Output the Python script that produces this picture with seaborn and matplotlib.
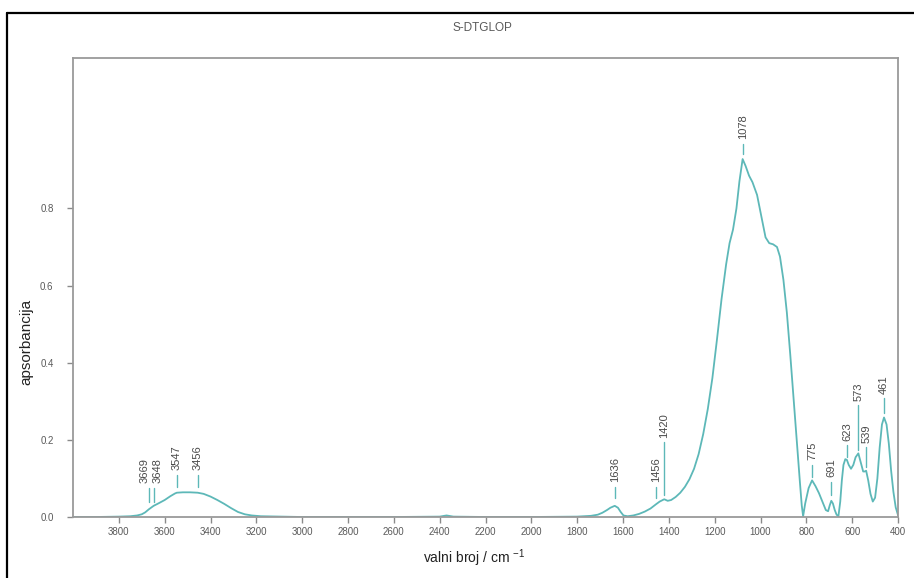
import numpy as np
import pandas as pd
import matplotlib
matplotlib.use("Agg")
import matplotlib.pyplot as plt
import seaborn as sns
from matplotlib.lines import Line2D
from matplotlib.transforms import offset_copy

# ---------------- data ----------------
wavenumber = [4000, 3900, 3800, 3750, 3720, 3700, 3685, 3669, 3648, 3625, 3600, 3575, 3555, 3547,
              3520, 3490, 3456, 3430, 3400, 3370, 3340, 3310, 3280, 3250, 3220, 3180, 3100, 3000,
              2800, 2600, 2400, 2370, 2340, 2200, 2000, 1800, 1740, 1710, 1690, 1670, 1655, 1636,
              1622, 1610, 1598, 1580, 1555, 1530, 1505, 1480, 1456, 1440, 1420, 1405, 1390, 1370,
              1350, 1330, 1310, 1290, 1270, 1250, 1230, 1210, 1190, 1170, 1150, 1135, 1120, 1105,
              1092, 1078, 1065, 1050, 1035, 1015, 995, 978, 962, 945, 928, 915, 900, 885, 870, 855,
              840, 828, 820, 814, 805, 790, 775, 760, 745, 730, 715, 705, 698, 691, 684, 676, 668,
              660, 652, 645, 638, 630, 623, 615, 605, 595, 585, 573, 562, 552, 545, 539, 530, 520,
              510, 500, 490, 480, 470, 461, 450, 440, 430, 420, 410, 400]
absorbance = [0.0, 0.0, 0.001, 0.002, 0.004, 0.007, 0.012, 0.020, 0.029, 0.036, 0.044, 0.054, 0.061, 0.063,
              0.064, 0.064, 0.063, 0.060, 0.053, 0.044, 0.034, 0.023, 0.013, 0.007, 0.004, 0.002, 0.001, 0.0,
              0.0, 0.0, 0.001, 0.004, 0.001, 0.0, 0.0, 0.001, 0.003, 0.006, 0.011, 0.018, 0.024, 0.029,
              0.024, 0.013, 0.004, 0.002, 0.004, 0.008, 0.014, 0.022, 0.033, 0.040, 0.046, 0.042, 0.044, 0.052,
              0.063, 0.078, 0.098, 0.125, 0.163, 0.215, 0.28, 0.36, 0.46, 0.565, 0.655, 0.71, 0.745, 0.80,
              0.87, 0.928, 0.91, 0.885, 0.868, 0.835, 0.775, 0.725, 0.71, 0.707, 0.70, 0.675, 0.615, 0.53, 0.42, 0.305,
              0.185, 0.09, 0.03, 0.002, 0.035, 0.075, 0.095, 0.08, 0.062, 0.04, 0.018, 0.015, 0.03, 0.042, 0.035, 0.018, 0.006,
              0.002, 0.04, 0.095, 0.135, 0.15, 0.148, 0.135, 0.125, 0.135, 0.155, 0.165, 0.14, 0.118, 0.118, 0.12, 0.095, 0.06,
              0.04, 0.05, 0.10, 0.18, 0.24, 0.258, 0.24, 0.19, 0.12, 0.065, 0.025, 0.005]

peak_wavenumbers = [3669, 3648, 3547, 3456, 1636, 1456, 1420, 1078, 775, 691, 623, 573, 539, 461]
peak_labels = [str(p) for p in peak_wavenumbers]

x_ticks = [3800, 3600, 3400, 3200, 3000, 2800, 2600, 2400, 2200, 2000, 1800, 1600, 1400, 1200, 1000, 800, 600, 400]
y_ticks = [0.0, 0.2, 0.4, 0.6, 0.8]
y_tick_labels = ["0.0", "0.2", "0.4", "0.6", "0.8"]

title = "S-DTGLOP"
x_label = "valni broj / cm $^{-1}$"
y_label = "apsorbancija"

# ---------------- layout of peak markers (data y) ----------------
marker_bottoms = [0.039, 0.039, 0.078, 0.078, 0.049, 0.049, 0.057, 0.942, 0.103, 0.057, 0.155, 0.173, 0.129, 0.269]
marker_tops = [0.075, 0.075, 0.109, 0.109, 0.078, 0.078, 0.194, 0.968, 0.135, 0.091, 0.186, 0.290, 0.181, 0.308]
label_dx_px = [-4, 4, 0, 0, 0, 0, 0, 0, 0, 0, 0, 0, 0, 0]

W, H = 914, 578
teal = "#5db8b8"
grey_txt = "#5a5a5a"

sns.set_style("white")
plt.rcParams["font.family"] = ["Liberation Sans", "DejaVu Sans"]
plt.rcParams["mathtext.fontset"] = "custom"
plt.rcParams["mathtext.rm"] = "Liberation Sans"
plt.rcParams["mathtext.it"] = "Liberation Sans"

fig = plt.figure(figsize=(W / 100, H / 100), dpi=100)
ax = fig.add_axes([73 / W, 1 - 517 / H, (898 - 73) / W, (517 - 58) / H])

df = pd.DataFrame({"wn": wavenumber, "A": absorbance})
sns.lineplot(data=df, x="wn", y="A", ax=ax, color=teal, linewidth=1.3)

ax.set_xlim(4000, 400)
ax.set_ylim(0, 1.19)
ax.set_xticks(x_ticks)
ax.set_xticklabels([str(t) for t in x_ticks])
ax.set_yticks(y_ticks)
ax.set_yticklabels(y_tick_labels)
ax.set_xlabel("")
ax.set_ylabel("")
ax.tick_params(axis="x", bottom=True, direction="out", length=4, width=1, color="#8a8a8a",
               labelsize=7, labelcolor=grey_txt, pad=3)
ax.tick_params(axis="y", left=True, direction="out", length=4, width=1, color="#8a8a8a",
               labelsize=7, labelcolor=grey_txt, pad=10)
for s in ax.spines.values():
    s.set_color("#9a9a9a")
    s.set_linewidth(1.3)

# peak markers and labels
for lab, wn, yb, yt, dx in zip(peak_labels, peak_wavenumbers, marker_bottoms, marker_tops, label_dx_px):
    ax.plot([wn, wn], [yb, yt], color=teal, linewidth=1.0)
    tr = offset_copy(ax.transData, fig=fig, x=dx * 0.72, y=0, units="points")
    ax.text(wn, yt + 0.012, lab, rotation=90, ha="center", va="bottom",
            fontsize=8, color="#4a4a4a", transform=tr)

# texts
fig.text(482 / W, 1 - 28 / H, title, ha="center", va="center", fontsize=8.5, color=grey_txt)
fig.text(474 / W, 1 - 558 / H, x_label, ha="center", va="center", fontsize=10, color="#222222")
fig.text(26 / W, 1 - 342 / H, y_label, ha="center", va="center", rotation=90, fontsize=11, color="#222222")

# outer black frame (top and left visible)
fig.add_artist(Line2D([7 / W, 1], [1 - 13 / H, 1 - 13 / H], transform=fig.transFigure, color="black", linewidth=1.6))
fig.add_artist(Line2D([7 / W, 7 / W], [0, 1 - 13 / H], transform=fig.transFigure, color="black", linewidth=1.6))

fig.savefig("out.png", dpi=100)
